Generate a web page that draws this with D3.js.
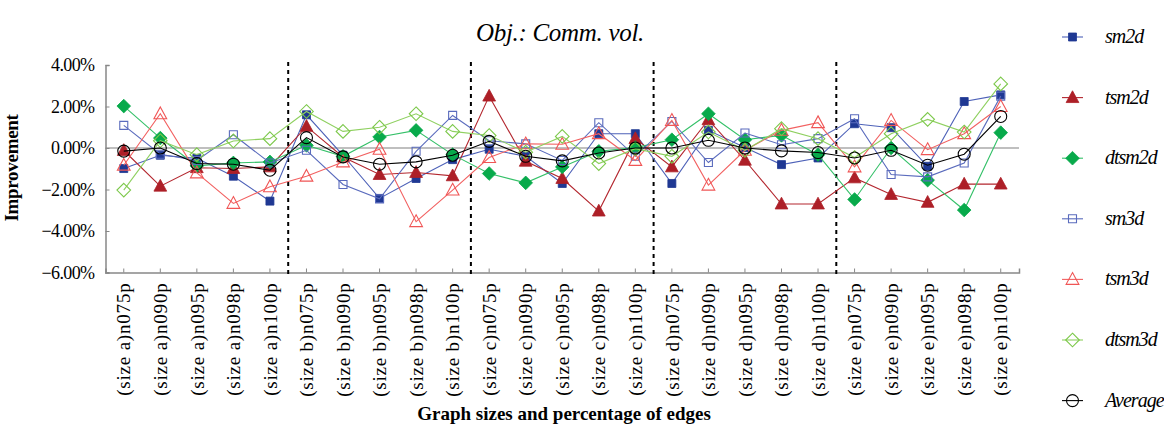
<!DOCTYPE html>
<html><head><meta charset="utf-8">
<script src="https://cdn.jsdelivr.net/npm/d3@7"></script>
<style>body{margin:0;background:#fff}svg{display:block}</style>
</head><body><svg id="c" width="1164" height="426"></svg>
<script>
const categories = ["(size a)n075p","(size a)n090p","(size a)n095p","(size a)n098p","(size a)n100p",
"(size b)n075p","(size b)n090p","(size b)n095p","(size b)n098p","(size b)n100p",
"(size c)n075p","(size c)n090p","(size c)n095p","(size c)n098p","(size c)n100p",
"(size d)n075p","(size d)n090p","(size d)n095p","(size d)n098p","(size d)n100p",
"(size e)n075p","(size e)n090p","(size e)n095p","(size e)n098p","(size e)n100p"];
const sm2d   = [-0.99,-0.35,-0.50,-1.36,-2.56, 1.60,-0.35,-2.43,-1.47,-0.56, -0.06,-0.40,-1.71,0.69,0.69, -1.71,0.85,0.02,-0.80,-0.48, 1.17,0.98,-0.88,2.24,2.56];
const tsm2d  = [-0.12,-1.84,-0.95,-0.99,-0.91, 1.04,-0.43,-1.28,-1.18,-1.34, 2.50,-0.64,-1.47,-3.04,0.45, -0.91,1.36,-0.59,-2.70,-2.70, -1.44,-2.24,-2.62,-1.74,-1.74];
const dtsm2d = [2.02,0.48,-0.86,-0.72,-0.67, 0.13,-0.40,0.53,0.85,-0.32, -1.23,-1.68,-0.91,-0.16,0.02, 0.40,1.65,0.40,0.61,-0.32, -2.48,0.00,-1.55,-2.99,0.74];
const sm3d   = [1.09,-0.30,-0.60,0.64,-0.72, -0.11,-1.76,-2.45,-0.16,1.57, 0.35,0.20,-0.60,1.22,-0.40, 1.28,-0.70,0.72,0.16,0.45, 1.41,-1.28,-1.39,-0.72,2.50];
const tsm3d  = [-0.83,1.65,-1.20,-2.67,-1.87, -1.36,-0.67,-0.06,-3.55,-2.03, -0.46,0.20,0.18,0.69,-0.60, 1.33,-1.79,-0.11,0.85,1.22, -0.91,1.33,-0.08,0.69,2.00];
const dtsm3d = [-2.03,0.35,-0.32,0.34,0.45, 1.76,0.80,1.00,1.65,0.80, 0.60,-0.20,0.56,-0.75,-0.03, -0.40,0.77,-0.11,0.93,0.45, -0.46,0.69,1.38,0.77,3.09];
const average= [-0.15,0.00,-0.75,-0.78,-1.07, 0.50,-0.43,-0.78,-0.67,-0.35, 0.32,-0.40,-0.62,-0.24,0.00, 0.00,0.37,0.00,-0.14,-0.22, -0.48,-0.11,-0.83,-0.30,1.52];
const yTicks = [4,2,0,-2,-4,-6];
const groupBreaks = [5,10,15,20];

const series = [
 {name:"sm2d",  v:sm2d,  line:"#4d61b8", mark:"#1f3893", shape:"square", fill:true},
 {name:"tsm2d", v:tsm2d, line:"#b3262e", mark:"#ad1f27", shape:"triangle", fill:true},
 {name:"dtsm2d",v:dtsm2d,line:"#34c068", mark:"#08aa4b", shape:"diamond", fill:true},
 {name:"sm3d",  v:sm3d,  line:"#5a6bbd", mark:"#5a6bbd", shape:"square", fill:false},
 {name:"tsm3d", v:tsm3d, line:"#f26161", mark:"#f05555", shape:"triangle", fill:false},
 {name:"dtsm3d",v:dtsm3d,line:"#8fd060", mark:"#7cc84a", shape:"diamond", fill:false},
 {name:"Average",v:average,line:"#000", mark:"#000", shape:"circle", fill:false}
];
const FONT = "Liberation Serif, DejaVu Serif, serif";

const svg = d3.select("#c");
const L=105.5, R=1019, T=65, B=272.5;
const x = d3.scaleBand().domain(categories).range([L,R]);
const y = d3.scaleLinear().domain([-6,4]).range([B,T]);
const cx = c => x(c)+x.bandwidth()/2;

svg.append("line").attr("x1",L).attr("x2",R).attr("y1",y(0)).attr("y2",y(0)).attr("stroke","#aaa").attr("stroke-width",1.5);

const ya = svg.append("g").attr("transform",`translate(${L},0)`)
  .call(d3.axisLeft(y).tickValues(yTicks).tickSize(-4).tickPadding(11).tickFormat(d=>(d<0?"\u2212"+Math.abs(d).toFixed(2):d.toFixed(2))+"%"));
ya.select(".domain").attr("stroke","#888").attr("stroke-width",1.5);
ya.selectAll(".tick line").attr("stroke","#888");
ya.selectAll("text").attr("font-size",18).attr("fill","#000").attr("letter-spacing","-0.6px");

const xa = svg.append("g").attr("transform",`translate(0,${B})`)
  .call(d3.axisBottom(x).tickSize(-4).tickPadding(0));
xa.select(".domain").attr("stroke","#888").attr("stroke-width",1.5);
xa.selectAll(".tick line").attr("stroke","#888");
xa.selectAll("text").attr("font-size",19).attr("fill","#000").attr("letter-spacing","0.8px")
  .attr("transform","rotate(-90)").attr("text-anchor","end").attr("dy","0.35em").attr("x",-10).attr("y",0);

svg.selectAll(".grp").data(groupBreaks).join("line")
  .attr("x1",d=>L+d*x.step()).attr("x2",d=>L+d*x.step())
  .attr("y1",T-3).attr("y2",B+4).attr("stroke","#000").attr("stroke-width",2).attr("stroke-dasharray","4,4");

function shapePath(shape, s){
  if(shape==="square") return d3.symbol(d3.symbolSquare, s*s)();
  if(shape==="triangle") return `M0,${-s*0.62}L${s*0.58},${s*0.45}L${-s*0.58},${s*0.45}Z`;
  if(shape==="diamond") return `M0,${-s*0.62}L${s*0.62},0L0,${s*0.62}L${-s*0.62},0Z`;
  return null;
}
function drawMarker(g, sr, px, py){
  if(sr.shape==="circle"){
    g.append("circle").attr("cx",px).attr("cy",py).attr("r",6).attr("fill","none").attr("stroke",sr.mark).attr("stroke-width",1.1);
  } else {
    const s = sr.shape==="square" ? 8 : 11;
    g.append("path").attr("d",shapePath(sr.shape,s)).attr("transform",`translate(${px},${py})`)
     .attr("fill",sr.fill?sr.mark:"none")
     .attr("stroke",sr.mark).attr("stroke-width",sr.fill?0.8:1.1);
  }
}
const line = d3.line().x((d,i)=>cx(categories[i])).y(d=>y(d));
series.forEach(sr=>{
  const g = svg.append("g");
  g.append("path").datum(sr.v).attr("d",line).attr("fill","none").attr("stroke",sr.line).attr("stroke-width",1.1);
  sr.v.forEach((v,i)=>drawMarker(g,sr,cx(categories[i]),y(v)));
});

svg.append("text").attr("x",560).attr("y",41).attr("text-anchor","middle").attr("font-size",25).attr("font-style","italic").attr("letter-spacing","-0.3px").text("Obj.: Comm. vol.");
svg.append("text").attr("transform","translate(18,168) rotate(-90)").attr("text-anchor","middle").attr("font-size",19).attr("font-weight","bold").attr("letter-spacing","-0.3px").text("Improvement");
svg.append("text").attr("x",564).attr("y",420).attr("text-anchor","middle").attr("font-size",19).attr("font-weight","bold").text("Graph sizes and percentage of edges");

const lg = svg.append("g");
series.forEach((sr,i)=>{
  const ly = 37 + i*60.6;
  lg.append("line").attr("x1",1062).attr("x2",1083).attr("y1",ly).attr("y2",ly).attr("stroke",sr.line).attr("stroke-width",1.1);
  drawMarker(lg, sr, 1072.5, ly);
  lg.append("text").attr("x",1105).attr("y",ly+6).attr("font-size",20).attr("font-style","italic").attr("letter-spacing","-1px").text(sr.name);
});
svg.selectAll("text").attr("font-family",FONT);
</script></body></html>
